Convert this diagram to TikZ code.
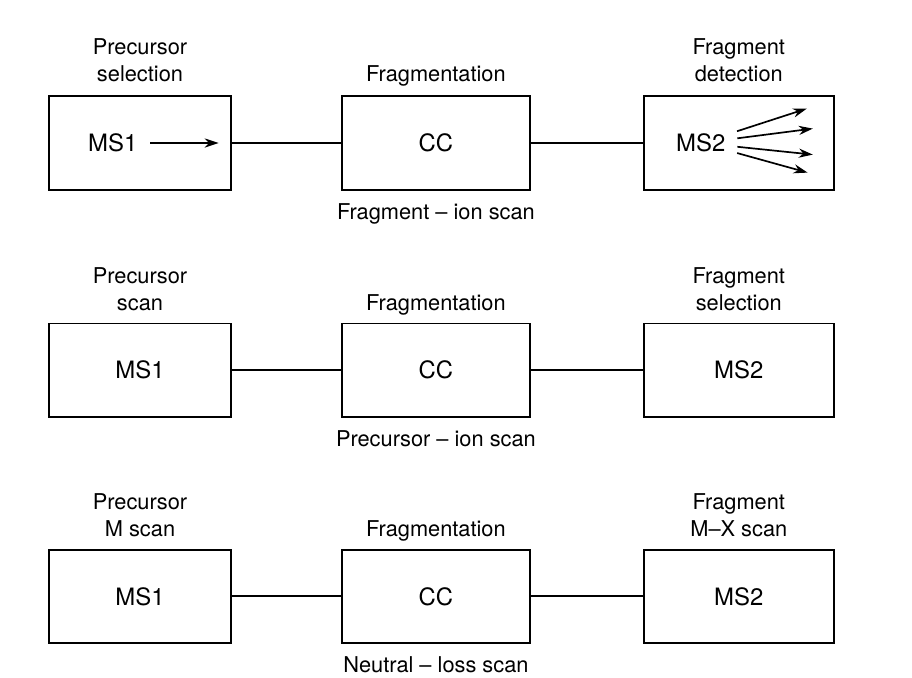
\documentclass[tikz,border=0pt]{standalone}
\usepackage{fontspec}
\setmainfont{TeX Gyre Heros}
\usetikzlibrary{positioning,arrows.meta}

\tikzstyle{box} = [rectangle, minimum width=4.55cm, minimum height=2.33cm, draw=black, line width=1.3pt, font=\fontsize{17}{20}\selectfont]
\tikzstyle{ccbox} = [box, minimum width=4.7cm]
\tikzstyle{msbox} = [box, minimum width=4.75cm]
\tikzstyle{boxtext} = [font=\fontsize{17}{20}\selectfont]
\tikzstyle{caption} = [align=center, inner sep=0pt, text depth=0pt, font=\fontsize{15.5}{19}\selectfont]
\tikzstyle{line} = [line width=1.3pt]
\tikzstyle{arrow} = [line width=1.2pt,->,>={Stealth[length=10pt,width=6.5pt]}]

\begin{document}
\begin{tikzpicture}[x=0.025cm, y=0.025cm]
  \useasboundingbox (0,0) rectangle (912,-677);

  % fragment-ion scan
  \node (ms1a) [box] at (140,-143) {};
  \node (cca) [ccbox, right=2.725cm of ms1a] {CC};
  \node (ms2a) [msbox, right=2.8cm of cca] {};
  \node (ms1atext) [boxtext] at ([xshift=-0.68cm]ms1a.center) {MS1};
  \node (ms2atext) [boxtext] at ([xshift=-0.95cm]ms2a.center) {MS2};
  \coordinate (sel) at ([xshift=-0.33cm]ms1a.east);
  \coordinate (det1) at ([xshift=1.7cm, yshift=0.86cm]ms2a.center);
  \coordinate (det2) at ([xshift=1.85cm, yshift=0.36cm]ms2a.center);
  \coordinate (det3) at ([xshift=1.85cm, yshift=-0.29cm]ms2a.center);
  \coordinate (det4) at ([xshift=1.72cm, yshift=-0.74cm]ms2a.center);
  \node (ms1acap) [caption, above=0.35cm of ms1a] {Precursor\\selection};
  \node (ccacap) [caption, above=0.35cm of cca] {Fragmentation};
  \node (ms2acap) [caption, above=0.35cm of ms2a] {Fragment\\detection};
  \node (scana) [caption, below=0.33cm of cca] {Fragment -- ion scan};

  \draw [line] (ms1a) -- (cca);
  \draw [line] (cca) -- (ms2a);
  \draw [arrow, shorten <=0.2cm] (ms1atext) -- (sel);
  \draw [arrow, shorten <=5pt] (ms2atext) -- (det1);
  \draw [arrow, shorten <=5pt] (ms2atext) -- (det2);
  \draw [arrow, shorten <=5pt] (ms2atext) -- (det3);
  \draw [arrow, shorten <=5pt] (ms2atext) -- (det4);

  % precursor-ion scan
  \node (ms1b) [box, below=3.3cm of ms1a] {MS1};
  \node (ccb) [ccbox, right=2.725cm of ms1b] {CC};
  \node (ms2b) [msbox, right=2.8cm of ccb] {MS2};
  \node (ms1bcap) [caption, above=0.3cm of ms1b] {Precursor\\scan};
  \node (ccbcap) [caption, above=0.3cm of ccb] {Fragmentation};
  \node (ms2bcap) [caption, above=0.3cm of ms2b] {Fragment\\selection};
  \node (scanb) [caption, below=0.33cm of ccb] {Precursor -- ion scan};

  \draw [line] (ms1b) -- (ccb);
  \draw [line] (ccb) -- (ms2b);

  % neutral-loss scan
  \node (ms1c) [box, below=3.28cm of ms1b] {MS1};
  \node (ccc) [ccbox, right=2.725cm of ms1c] {CC};
  \node (ms2c) [msbox, right=2.8cm of ccc] {MS2};
  \node (ms1ccap) [caption, above=0.3cm of ms1c] {Precursor\\M scan};
  \node (ccccap) [caption, above=0.3cm of ccc] {Fragmentation};
  \node (ms2ccap) [caption, above=0.3cm of ms2c] {Fragment\\M--X scan};
  \node (scanc) [caption, below=0.3cm of ccc] {Neutral -- loss scan};

  \draw [line] (ms1c) -- (ccc);
  \draw [line] (ccc) -- (ms2c);
\end{tikzpicture}
\end{document}
